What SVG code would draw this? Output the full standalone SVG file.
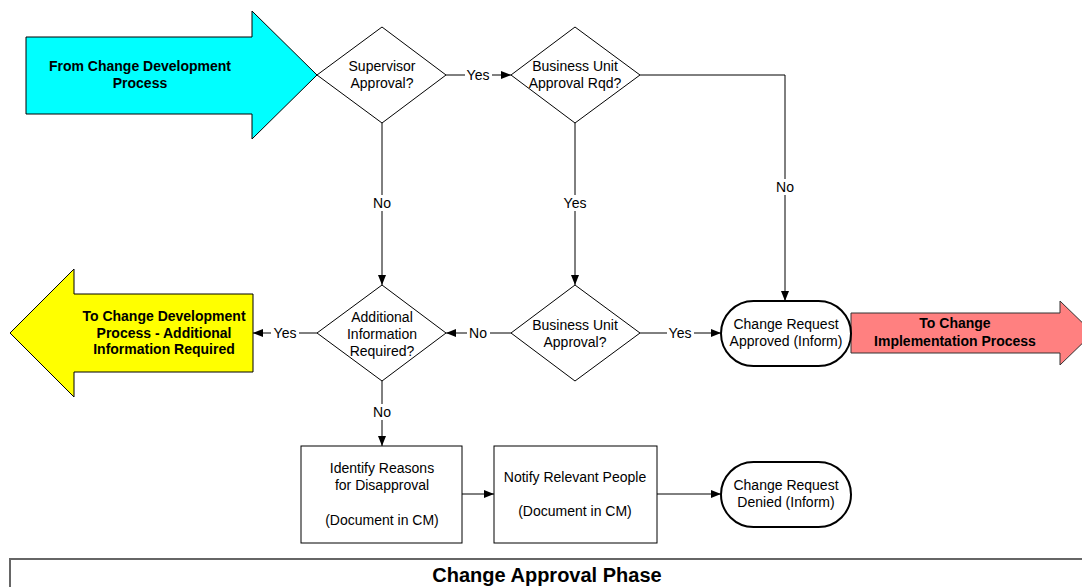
<svg xmlns="http://www.w3.org/2000/svg" width="1082" height="587" viewBox="0 0 1082 587">
<style>
.t{font-family:"Liberation Sans",Arial,sans-serif;font-size:14px;fill:#000;text-anchor:middle}
.b{font-weight:bold}
.shape{fill:#fff;stroke:#000;stroke-width:1}
.term{fill:#fff;stroke:#000;stroke-width:2}
.ln{fill:none;stroke:#000;stroke-width:1}
.lbg{fill:#fff}
</style>
<defs>
<marker id="ah" viewBox="0 0 10 8" refX="10" refY="4" markerWidth="10" markerHeight="8" markerUnits="userSpaceOnUse" orient="auto">
<path d="M0,0 L10,4 L0,8 z" fill="#000"/>
</marker>
</defs>
<rect width="1082" height="587" fill="#fff"/>

<g id="from-dev">
<polygon points="26,37 252,37 252,11 317,75 252,139 252,114 26,114" fill="#00FFFF" stroke="#000" stroke-width="1"/>
<text class="t b" x="140" y="71">From Change Development</text>
<text class="t b" x="140" y="88">Process</text>
</g>

<g id="to-dev">
<polygon points="253,294 74,294 74,269 10,333 74,397 74,372 253,372" fill="#FFFF00" stroke="#000" stroke-width="1"/>
<text class="t b" x="164" y="321">To Change Development</text>
<text class="t b" x="164" y="338">Process - Additional</text>
<text class="t b" x="164" y="354">Information Required</text>
</g>

<g id="to-impl">
<polygon points="851,313 1060,313 1060,301 1093,333 1060,365 1060,353 851,353" fill="#FF8080" stroke="#333" stroke-width="1"/>
<text class="t b" x="955" y="328">To Change</text>
<text class="t b" x="955" y="346">Implementation Process</text>
</g>

<g id="connectors">
<line class="ln" x1="446" y1="75" x2="511" y2="75" marker-end="url(#ah)"/>
<polyline class="ln" points="640,75 785,75 785,301" marker-end="url(#ah)"/>
<line class="ln" x1="382" y1="123" x2="382" y2="285" marker-end="url(#ah)"/>
<line class="ln" x1="575" y1="123" x2="575" y2="285" marker-end="url(#ah)"/>
<line class="ln" x1="511" y1="333" x2="446" y2="333" marker-end="url(#ah)"/>
<line class="ln" x1="317" y1="333" x2="253" y2="333" marker-end="url(#ah)"/>
<line class="ln" x1="640" y1="333" x2="721" y2="333" marker-end="url(#ah)"/>
<line class="ln" x1="382" y1="381" x2="382" y2="446" marker-end="url(#ah)"/>
<line class="ln" x1="462" y1="494" x2="494" y2="494" marker-end="url(#ah)"/>
<line class="ln" x1="657" y1="494" x2="721" y2="494" marker-end="url(#ah)"/>
<g id="labels">
<rect class="lbg" x="465" y="67" width="27" height="16"/><text class="t" x="478" y="80">Yes</text>
<rect class="lbg" x="773" y="179" width="24" height="16"/><text class="t" x="785" y="192">No</text>
<rect class="lbg" x="370" y="195" width="24" height="16"/><text class="t" x="382" y="208">No</text>
<rect class="lbg" x="561" y="195" width="28" height="16"/><text class="t" x="575" y="208">Yes</text>
<rect class="lbg" x="467" y="325" width="23" height="16"/><text class="t" x="478" y="338">No</text>
<rect class="lbg" x="271" y="325" width="28" height="16"/><text class="t" x="285" y="338">Yes</text>
<rect class="lbg" x="667" y="325" width="27" height="16"/><text class="t" x="680" y="338">Yes</text>
<rect class="lbg" x="370" y="404" width="24" height="16"/><text class="t" x="382" y="417">No</text>
</g>
</g>

<g id="supervisor-approval">
<polygon class="shape" points="382,27 446,75 382,123 317,75"/>
<text class="t" x="382" y="71">Supervisor</text>
<text class="t" x="382" y="88">Approval?</text>
</g>

<g id="bu-approval-rqd">
<polygon class="shape" points="575,27 640,75 575,123 511,75"/>
<text class="t" x="575" y="71">Business Unit</text>
<text class="t" x="575" y="88">Approval Rqd?</text>
</g>

<g id="additional-info">
<polygon class="shape" points="382,285 446,333 382,381 317,333"/>
<text class="t" x="382" y="322">Additional</text>
<text class="t" x="382" y="339">Information</text>
<text class="t" x="382" y="356">Required?</text>
</g>

<g id="bu-approval">
<polygon class="shape" points="575,285 640,333 575,381 511,333"/>
<text class="t" x="575" y="330">Business Unit</text>
<text class="t" x="575" y="347">Approval?</text>
</g>

<g id="cr-approved">
<rect class="term" x="721" y="301" width="130" height="65" rx="32.5" ry="32.5"/>
<text class="t" x="786" y="329">Change Request</text>
<text class="t" x="786" y="346">Approved (Inform)</text>
</g>

<g id="identify-reasons">
<rect class="shape" x="301" y="446" width="161" height="97"/>
<text class="t" x="382" y="473">Identify Reasons</text>
<text class="t" x="382" y="490">for Disapproval</text>
<text class="t" x="382" y="525">(Document in CM)</text>
</g>

<g id="notify-people">
<rect class="shape" x="494" y="446" width="163" height="97"/>
<text class="t" x="575" y="482">Notify Relevant People</text>
<text class="t" x="575" y="516">(Document in CM)</text>
</g>

<g id="cr-denied">
<rect class="term" x="721" y="462" width="130" height="65" rx="32.5" ry="32.5"/>
<text class="t" x="786" y="490">Change Request</text>
<text class="t" x="786" y="507">Denied (Inform)</text>
</g>

<g id="phase-title">
<rect x="10" y="559" width="1090" height="60" fill="#fff" stroke="#666" stroke-width="2"/>
<text class="t b" x="547" y="582" style="font-size:20px">Change Approval Phase</text>
</g>
</svg>
